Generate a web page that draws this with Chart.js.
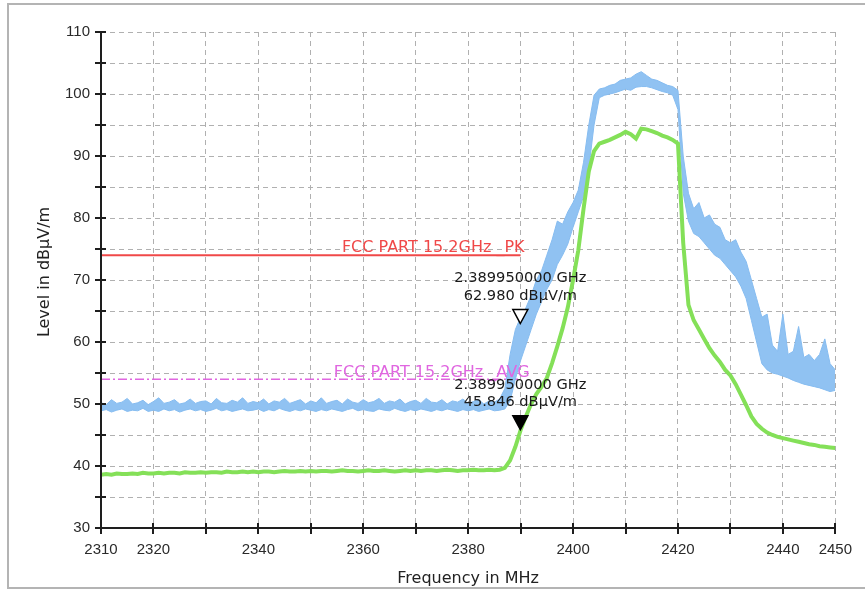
<!DOCTYPE html>
<html>
<head>
<meta charset="utf-8">
<script src="https://cdn.jsdelivr.net/npm/chart.js@4.4.0/dist/chart.umd.min.js"></script>
<style>
html,body{margin:0;padding:0;background:#fff;}
#wrap{position:relative;width:865px;height:590px;}
</style>
</head>
<body>
<div id="wrap"><canvas id="c" width="865" height="590"></canvas></div>
<script>
// ---- data ----
const freqMHz = [
  2310,2311,2312,2313,2314,2315,2316,2317,2318,2319,
  2320,2321,2322,2323,2324,2325,2326,2327,2328,2329,
  2330,2331,2332,2333,2334,2335,2336,2337,2338,2339,
  2340,2341,2342,2343,2344,2345,2346,2347,2348,2349,
  2350,2351,2352,2353,2354,2355,2356,2357,2358,2359,
  2360,2361,2362,2363,2364,2365,2366,2367,2368,2369,
  2370,2371,2372,2373,2374,2375,2376,2377,2378,2379,
  2380,2381,2382,2383,2384,2385,2386,2387,2388,2389,
  2390,2391,2392,2393,2394,2395,2396,2397,2398,2399,
  2400,2401,2402,2403,2404,2405,2406,2407,2408,2409,
  2410,2411,2412,2413,2414,2415,2416,2417,2418,2419,
  2420,2421,2422,2423,2424,2425,2426,2427,2428,2429,
  2430,2431,2432,2433,2434,2435,2436,2437,2438,2439,
  2440,2441,2442,2443,2444,2445,2446,2447,2448,2449,
  2450
];
// peak detector trace (blue): upper and lower edge of the noisy band
const peakHigh = [
  50.2,49.9,50.7,50.1,50.3,50.9,50.0,50.2,50.6,49.9,
  50.4,51.0,50.1,50.3,50.7,50.0,50.2,50.8,50.1,50.4,
  50.5,50.0,50.9,50.2,50.1,50.6,50.3,51.0,50.1,50.4,
  50.2,50.8,50.0,50.5,50.3,50.9,50.1,50.4,50.7,50.0,
  50.5,50.2,51.0,50.1,50.4,50.6,50.0,50.8,50.3,50.1,
  50.7,50.2,50.4,50.9,50.1,50.5,50.3,50.8,50.0,50.4,
  50.6,50.1,50.9,50.3,50.2,50.7,50.0,50.5,50.3,50.8,
  50.1,50.4,50.7,50.0,50.5,50.3,50.8,52.5,58.0,62.0,
  64.0,65.5,67.5,70.0,71.5,74.0,76.5,79.5,79.0,81.0,
  82.5,84.5,89.0,95.0,99.8,100.8,101.0,101.4,101.6,102.2,
  102.4,102.6,103.2,103.6,103.0,102.4,102.2,101.8,101.4,101.2,
  100.6,90.0,84.0,81.5,82.5,80.0,80.5,79.0,78.5,76.5,
  76.0,76.5,74.5,73.0,70.0,67.0,64.0,64.5,59.5,58.5,
  64.5,58.0,58.5,62.5,57.5,58.0,57.0,58.0,60.5,56.5,
  55.5
];
const peakLow = [
  48.9,49.1,48.7,49.0,49.2,48.8,49.0,48.9,49.3,48.8,
  49.0,48.8,49.2,48.9,49.1,48.7,49.0,49.2,48.9,49.1,
  48.8,49.0,49.3,48.9,49.1,48.8,49.0,49.2,48.9,49.0,
  49.2,48.8,49.1,48.9,49.3,49.0,48.8,49.1,48.9,49.2,
  49.0,48.8,49.1,48.9,49.2,49.0,48.8,49.1,49.3,48.9,
  49.1,48.9,48.8,49.2,49.0,48.9,49.3,49.0,48.8,49.1,
  48.9,49.2,49.0,48.8,49.1,48.9,49.2,49.0,48.8,49.1,
  48.9,49.1,48.8,49.0,49.2,48.9,49.0,49.2,50.5,54.0,
  57.0,59.5,62.0,64.5,66.5,68.5,70.0,72.5,74.0,75.8,
  78.5,81.0,83.5,88.0,95.0,99.4,99.8,100.0,100.2,100.5,
  100.8,100.6,101.1,101.2,101.2,101.0,100.7,100.4,100.2,99.8,
  97.5,84.0,79.5,77.5,77.0,76.0,75.0,74.0,73.5,72.5,
  71.5,70.5,69.0,67.0,63.5,60.0,56.5,55.5,55.0,54.8,
  54.5,54.2,53.8,53.5,53.2,53.0,52.8,52.6,52.3,52.0,
  52.2
];
// average detector trace (green)
const avgLevel = [
  38.6,38.7,38.6,38.8,38.7,38.7,38.8,38.7,38.9,38.8,
  38.8,38.9,38.8,38.9,38.9,38.8,39.0,38.9,38.9,39.0,
  38.9,39.0,39.0,38.9,39.1,39.0,39.0,39.1,39.0,39.1,
  39.0,39.1,39.1,39.0,39.1,39.2,39.1,39.1,39.2,39.1,
  39.2,39.1,39.2,39.2,39.1,39.2,39.3,39.2,39.2,39.1,
  39.2,39.3,39.2,39.2,39.3,39.2,39.1,39.2,39.3,39.2,
  39.3,39.2,39.3,39.3,39.2,39.3,39.4,39.3,39.2,39.3,
  39.3,39.4,39.3,39.3,39.4,39.3,39.4,39.7,40.9,43.1,
  45.8,48.0,50.0,51.6,52.8,54.2,56.6,59.3,62.2,65.6,
  70.0,74.8,81.5,87.5,90.8,92.0,92.3,92.6,93.0,93.4,
  93.9,93.5,92.8,94.4,94.3,94.0,93.7,93.3,93.0,92.6,
  92.0,76.0,66.0,63.5,62.0,60.5,59.0,57.8,56.8,55.5,
  54.6,53.2,51.5,49.8,48.0,46.8,46.0,45.4,45.0,44.7,
  44.5,44.3,44.1,43.9,43.7,43.5,43.4,43.2,43.1,43.0,
  42.9
];
// limit lines
const limitFreq = [2310, 2390];
const limitPK = [74, 74];
const limitAVG = [54, 54];
const limitPKName = 'FCC PART 15.2GHz _PK';
const limitAVGName = 'FCC PART 15.2GHz _AVG';
// markers
const markerFreq = 2389.95;
const markerPK = 62.980;
const markerAVG = 45.846;
// axes
const xTickLabels = [2310, 2320, 2340, 2360, 2380, 2400, 2420, 2440, 2450];
const yTickLabels = [30, 40, 50, 60, 70, 80, 90, 100, 110];

// ---- styles ----
const BLUE = '#90c2f2';
const BLUE_EDGE = '#86bcf0';
const GREEN = '#84e058';
const RED = '#f04848';
const MAGENTA = '#e066e0';
const FONT = "'Liberation Sans', Arial, sans-serif";
const WIDE = "'DejaVu Sans', Verdana, sans-serif";

function pts(xs, ys) { return xs.map((v, i) => ({x: v, y: ys[i]})); }

const decor = {
  id: 'decor',
  beforeDraw(chart) {
    const ctx = chart.ctx;
    ctx.save();
    ctx.fillStyle = '#fff';
    ctx.fillRect(0, 0, chart.width, chart.height);
    ctx.strokeStyle = '#b4b4b4';
    ctx.lineWidth = 2;
    ctx.strokeRect(8, 4, chart.width + 10, chart.height - 6);
    ctx.restore();
  },
  afterDatasetsDraw(chart) {
    const {ctx, chartArea: a} = chart;
    const xs = chart.scales.x, ys = chart.scales.y;
    ctx.save();
    // axis lines
    ctx.strokeStyle = '#1e1e1e';
    ctx.lineWidth = 2;
    ctx.beginPath();
    ctx.moveTo(a.left, a.top);
    ctx.lineTo(a.left, a.bottom);
    ctx.lineTo(a.right, a.bottom);
    ctx.stroke();
    // crossing tick marks
    ctx.beginPath();
    ys.ticks.forEach(t => {
      const py = Math.round(ys.getPixelForValue(t.value));
      ctx.moveTo(a.left - 6, py); ctx.lineTo(a.left + 5, py);
    });
    xs.ticks.forEach(t => {
      const px = Math.round(xs.getPixelForValue(t.value));
      ctx.moveTo(px, a.bottom - 5); ctx.lineTo(px, a.bottom + 6);
    });
    ctx.stroke();

    // y axis title
    ctx.save();
    ctx.translate(45, (a.top + a.bottom) / 2 - 8);
    ctx.rotate(-Math.PI / 2);
    ctx.font = '16px ' + WIDE;
    ctx.fillStyle = '#222';
    ctx.textAlign = 'center';
    ctx.textBaseline = 'middle';
    ctx.fillText('Level in dB\u00b5V/m', 0, 0);
    ctx.restore();

    // limit labels
    ctx.font = '16px ' + WIDE;
    ctx.textAlign = 'right';
    ctx.textBaseline = 'alphabetic';
    const lx = xs.getPixelForValue(limitFreq[1]) + 4;
    ctx.fillStyle = RED;
    ctx.fillText(limitPKName, lx, ys.getPixelForValue(limitPK[1]) - 3);
    ctx.fillStyle = MAGENTA;
    ctx.fillText(limitAVGName, lx + 5, ys.getPixelForValue(limitAVG[1]) - 2);

    // markers
    const mx = xs.getPixelForValue(markerFreq);
    const fLabel = (markerFreq / 1000).toFixed(9) + ' GHz';
    [[markerPK, false], [markerAVG, true]].forEach(([val, filled]) => {
      const py = ys.getPixelForValue(val);
      ctx.beginPath();
      ctx.moveTo(mx, py);
      ctx.lineTo(mx - 7.5, py - 14);
      ctx.lineTo(mx + 7.5, py - 14);
      ctx.closePath();
      ctx.lineWidth = 1.5;
      ctx.strokeStyle = '#000';
      ctx.fillStyle = filled ? '#000' : '#fff';
      ctx.fill();
      ctx.stroke();
      ctx.fillStyle = '#1a1a1a';
      ctx.font = '14.6px ' + WIDE;
      ctx.textAlign = 'center';
      ctx.textBaseline = 'middle';
      ctx.fillText(fLabel, mx, py - 45);
      ctx.fillText(val.toFixed(3) + ' dB\u00b5V/m', mx, py - 27.5);
    });
    ctx.restore();
  }
};

new Chart(document.getElementById('c'), {
  type: 'line',
  data: {
    datasets: [
      { label: 'Average', data: pts(freqMHz, avgLevel), borderColor: GREEN, borderWidth: 4,
        pointRadius: 0, fill: false, order: 1 },
      { label: 'Peak high', data: pts(freqMHz, peakHigh), borderColor: BLUE_EDGE, borderWidth: 1,
        pointRadius: 0, fill: false, order: 2 },
      { label: 'Peak low', data: pts(freqMHz, peakLow), borderColor: BLUE_EDGE, borderWidth: 1,
        backgroundColor: BLUE, pointRadius: 0, fill: '-1', order: 3 },
      { label: limitPKName, data: pts(limitFreq, limitPK), borderColor: RED, borderWidth: 2,
        pointRadius: 0, fill: false, order: 4 },
      { label: limitAVGName, data: pts(limitFreq, limitAVG), borderColor: MAGENTA, borderWidth: 1.5,
        borderDash: [9, 3, 2, 3], pointRadius: 0, fill: false, order: 5 }
    ]
  },
  options: {
    responsive: false,
    animation: false,
    devicePixelRatio: 1,
    layout: { padding: { left: 0, top: 32, right: 29, bottom: 0 } },
    plugins: { legend: { display: false }, tooltip: { enabled: false } },
    scales: {
      x: {
        type: 'linear', min: 2310, max: 2450,
        ticks: { stepSize: 10, autoSkip: false, maxRotation: 0, padding: 13, color: '#2a2a2a',
                 font: { family: FONT, size: 15 },
                 callback: v => xTickLabels.includes(v) ? String(v) : '' },
        grid: { color: '#b0b0b0', lineWidth: 1, drawTicks: false },
        border: { display: false, dash: [5, 4] },
        title: { display: true, text: 'Frequency in MHz', color: '#222',
                 font: { family: WIDE, size: 16 }, padding: { top: 0, bottom: 2 } },
        afterFit: s => { s.height = 62; }
      },
      y: {
        type: 'linear', min: 30, max: 110,
        ticks: { stepSize: 5, autoSkip: false, padding: 11, color: '#2a2a2a',
                 font: { family: FONT, size: 15 },
                 callback: v => yTickLabels.includes(v) ? String(v) : '' },
        grid: { color: '#b0b0b0', lineWidth: 1, drawTicks: false },
        border: { display: false, dash: [5, 4] },
        title: { display: false },
        afterFit: s => { s.width = 101; }
      }
    }
  },
  plugins: [decor]
});
</script>
</body>
</html>
